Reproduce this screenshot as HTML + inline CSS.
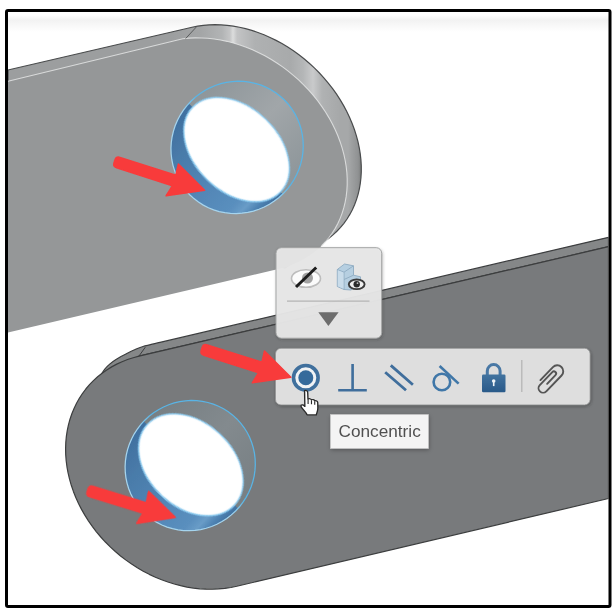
<!DOCTYPE html>
<html><head><meta charset="utf-8"><title>Concentric mate</title>
<style>
html,body{margin:0;padding:0;background:#fff;}
body{width:615px;height:610px;overflow:hidden;position:relative;font-family:"Liberation Sans",sans-serif;}
svg{position:absolute;left:0;top:0;display:block}
</style></head><body>
<svg width="615" height="610" viewBox="0 0 615 610">
<defs>
  <filter id="b1" x="-10%" y="-10%" width="120%" height="120%"><feGaussianBlur stdDeviation="1.2"/></filter>
  <filter id="b05" x="-10%" y="-10%" width="120%" height="120%"><feGaussianBlur stdDeviation="0.5"/></filter>
  <filter id="b2" x="-10%" y="-20%" width="120%" height="140%"><feGaussianBlur stdDeviation="2"/></filter>
  <filter id="b15" x="-5%" y="-10%" width="110%" height="120%"><feGaussianBlur stdDeviation="1.4"/></filter>
  <filter id="b04" x="-2%" y="-2%" width="104%" height="104%"><feGaussianBlur stdDeviation="0.4"/></filter>
  <filter id="b07"><feGaussianBlur stdDeviation="0.7"/></filter>
  <linearGradient id="ug" gradientUnits="userSpaceOnUse" x1="190" y1="195" x2="285" y2="100">
    <stop offset="0" stop-color="#4d83b5"/><stop offset="0.49" stop-color="#4a7fb0"/><stop offset="0.5" stop-color="#8a9296"/><stop offset="1" stop-color="#9ea3a6"/>
  </linearGradient>
  <linearGradient id="lg" gradientUnits="userSpaceOnUse" x1="143" y1="513" x2="238" y2="418">
    <stop offset="0" stop-color="#4d83b5"/><stop offset="0.49" stop-color="#4a7fb0"/><stop offset="0.5" stop-color="#7b8387"/><stop offset="1" stop-color="#858b8f"/>
  </linearGradient>
  <linearGradient id="bandg" gradientUnits="userSpaceOnUse" x1="170" y1="0" x2="362" y2="0"><stop offset="0.000" stop-color="#9c9e9f"/><stop offset="0.156" stop-color="#a3a5a6"/><stop offset="0.271" stop-color="#b2b4b5"/><stop offset="0.312" stop-color="#c4c5c6"/><stop offset="0.328" stop-color="#dcdddd"/><stop offset="0.349" stop-color="#c3c4c5"/><stop offset="0.443" stop-color="#afb1b2"/><stop offset="0.625" stop-color="#a8aaab"/><stop offset="0.693" stop-color="#b4b6b7"/><stop offset="0.745" stop-color="#c9cacb"/><stop offset="0.792" stop-color="#b0b2b3"/><stop offset="0.885" stop-color="#a6a8a9"/><stop offset="0.927" stop-color="#a6a8a9"/><stop offset="0.979" stop-color="#909293"/><stop offset="1.000" stop-color="#777979"/></linearGradient>
  <clipPath id="frame"><rect x="8" y="12" width="600.5" height="593"/></clipPath>
</defs>
<rect width="615" height="610" fill="#ffffff"/>
<linearGradient id="topg" x1="0" y1="0" x2="0" y2="1"><stop offset="0" stop-color="#ffffff"/><stop offset="0.3" stop-color="#f2f2f2"/><stop offset="1" stop-color="#ffffff"/></linearGradient>
<rect x="8" y="15" width="601" height="17" fill="url(#topg)"/>
<g clip-path="url(#frame)">
  <g filter="url(#b05)">
  <!-- upper plate -->
  <path d="M 8,70 L 192.00,27.26 L 197.59,26.13 L 203.30,25.32 L 209.13,24.84 L 215.05,24.67 L 221.06,24.83 L 227.14,25.30 L 233.26,26.10 L 239.42,27.22 L 245.59,28.65 L 251.75,30.40 L 257.90,32.44 L 264.01,34.80 L 270.07,37.44 L 276.05,40.37 L 281.95,43.58 L 287.74,47.06 L 293.41,50.80 L 298.95,54.78 L 304.33,59.01 L 309.55,63.46 L 314.58,68.13 L 319.42,73.00 L 324.05,78.05 L 328.46,83.28 L 332.63,88.66 L 336.56,94.19 L 340.23,99.85 L 343.63,105.62 L 346.76,111.48 L 349.60,117.43 L 352.14,123.44 L 354.39,129.49 L 356.33,135.58 L 357.96,141.67 L 359.27,147.76 L 360.25,153.83 L 360.92,159.86 L 361.26,165.84 L 361.28,171.74 L 360.96,177.55 L 360.33,183.26 L 359.37,188.85 L 358.08,194.30 L 356.48,199.60 L 354.57,204.73 L 352.35,209.68 L 349.83,214.44 L 347.02,218.99 L 343.92,223.32 L 340.54,227.41 L 336.89,231.26 L 332.99,234.85 L 328.84,238.18 L 324.45,241.24 L 319.84,244.01 L 285,268 L 8,200 Z" fill="url(#bandg)" stroke="#4a4c4d" stroke-width="1.2"/>
  <path d="M 8,81.3 L 182.85,38.79 L 188.90,38.18 L 195.06,37.89 L 201.29,37.92 L 207.60,38.28 L 213.96,38.96 L 220.34,39.96 L 226.74,41.28 L 233.14,42.92 L 239.52,44.86 L 245.86,47.10 L 252.14,49.65 L 258.35,52.48 L 264.47,55.60 L 270.48,59.00 L 276.36,62.65 L 282.11,66.57 L 287.69,70.72 L 293.11,75.11 L 298.34,79.72 L 303.37,84.54 L 308.18,89.55 L 312.76,94.74 L 317.10,100.10 L 321.19,105.61 L 325.02,111.26 L 328.56,117.02 L 331.83,122.89 L 334.80,128.85 L 337.46,134.88 L 339.82,140.97 L 341.86,147.09 L 343.58,153.24 L 344.97,159.39 L 346.03,165.52 L 346.76,171.63 L 347.15,177.69 L 347.21,183.69 L 346.93,189.60 L 346.31,195.42 L 345.36,201.13 L 344.08,206.71 L 342.46,212.14 L 340.53,217.42 L 338.28,222.52 L 335.71,227.44 L 332.84,232.15 L 329.68,236.65 L 326.22,240.93 L 322.49,244.96 L 318.48,248.75 L 314.23,252.28 L 309.72,255.53 L 304.98,258.51 L 300.02,261.20 L 294.86,263.59 L 289.51,265.69 L 283.97,267.48 L 278.28,268.95 L 8,332.5 Z" fill="#959798"/>
  <path d="M 8,81.3 L 182.85,38.79 L 188.93,38.17 L 195.12,37.89 L 201.40,37.93 L 207.74,38.29 L 214.13,38.99 L 220.55,40.00 L 226.99,41.34 L 233.42,42.99 L 239.83,44.96 L 246.20,47.23 L 252.51,49.81 L 258.75,52.68 L 264.89,55.83 L 270.92,59.26 L 276.83,62.96 L 282.59,66.91 L 288.20,71.11 L 293.62,75.55 L 298.86,80.21 L 303.89,85.07 L 308.71,90.13 L 313.29,95.37 L 317.62,100.78 L 321.70,106.33 L 325.51,112.03 L 329.04,117.84 L 332.28,123.75 L 335.22,129.76 L 337.85,135.83 L 340.17,141.95 L 342.17,148.11 L 343.84,154.29 L 345.18,160.48 L 346.19,166.64 L 346.86,172.77 L 347.19,178.85 L 347.18,184.87 L 346.83,190.80 L 346.14,196.63 L 345.11,202.34 L 343.75,207.92 L 342.06,213.35 L 340.04,218.62 L 337.70,223.70 L 335.05,228.60 L 332.09,233.29 L 328.83,237.76 L 325.28,241.99 L 321.46,245.99" fill="none" stroke="#e9eaea" stroke-width="1.1" stroke-opacity="0.8"/>
  <path d="M 185.7,38.5 L 196.6,26.7" stroke="#5a5c5d" stroke-width="1" fill="none"/>
  
<g>
  <clipPath id="uc"><ellipse cx="237.1" cy="147.4" rx="67" ry="65.3" transform="rotate(135 237.1 147.4)"/></clipPath>
  <linearGradient id="uwall" gradientUnits="userSpaceOnUse" x1="193.9" y1="105.7" x2="280.3" y2="189.1">
    <stop offset="0" stop-color="#8f979b"/><stop offset="0.5" stop-color="#a1a6a9"/><stop offset="1" stop-color="#8f979b"/>
  </linearGradient>
  <linearGradient id="ublue" gradientUnits="userSpaceOnUse" x1="189.6" y1="101.6" x2="284.6" y2="193.2">
    <stop offset="0" stop-color="#3f6f9f"/><stop offset="0.25" stop-color="#4a7caa"/><stop offset="0.55" stop-color="#5286b6"/><stop offset="0.79" stop-color="#5a8fbe"/><stop offset="0.86" stop-color="#699cc7"/><stop offset="0.92" stop-color="#4f84b4"/><stop offset="1" stop-color="#3c6b9a"/>
  </linearGradient>
  <linearGradient id="uedge" gradientUnits="userSpaceOnUse" x1="229.7" y1="156.8" x2="243.5" y2="142.4">
    <stop offset="0" stop-color="#a5d4ee"/><stop offset="1" stop-color="#58b4e6"/>
  </linearGradient>
  <g clip-path="url(#uc)">
    <rect x="157.1" y="67.4" width="160" height="160" fill="url(#uwall)"/>
    <polygon points="182.6,97.5 290.6,201.7 238.5,255.6 130.6,151.5" fill="url(#ublue)"/>
    <ellipse cx="236.6" cy="149.6" rx="61.099999999999994" ry="42.199999999999996" transform="rotate(44 236.6 149.6)" fill="#e4f3fb" stroke="#8ccaee" stroke-width="1.4" filter="url(#b05)"/>
    <ellipse cx="236.6" cy="149.6" rx="59.699999999999996" ry="40.8" transform="rotate(44 236.6 149.6)" fill="#ffffff" filter="url(#b07)"/>
  </g>
  <path d="M 189.72,194.78 L 185.88,190.57 L 182.43,186.04 L 179.39,181.21 L 176.79,176.13 L 174.65,170.82 L 172.98,165.34 L 171.81,159.72 L 171.13,154.01 L 170.95,148.25 L 171.28,142.48 L 172.10,136.75 L 173.42,131.10 L 175.23,125.57 L 177.51,120.21 L 180.24,115.06 L 183.40,110.15 L 186.97,105.53 L 190.93,101.23 L 195.23,97.27 L 199.85,93.70 L 204.76,90.54 L 209.91,87.81 L 215.27,85.53 L 220.80,83.72 L 226.45,82.40 L 232.18,81.58 L 237.95,81.25 L 243.71,81.43 L 249.42,82.11 L 255.04,83.28 L 260.52,84.95 L 265.83,87.09 L 270.91,89.69 L 275.74,92.73 L 280.27,96.18 L 284.48,100.02 L 288.32,104.23 L 291.77,108.76 L 294.81,113.59 L 297.41,118.67 L 299.55,123.98 L 301.22,129.46 L 302.39,135.08 L 303.07,140.79 L 303.25,146.55 L 302.92,152.32 L 302.10,158.05 L 300.78,163.70 L 298.97,169.23 L 296.69,174.59 L 293.96,179.74 L 290.80,184.65 L 287.23,189.27 L 283.27,193.57 L 278.97,197.53 L 274.35,201.10 L 269.44,204.26 L 264.29,206.99 L 258.93,209.27 L 253.40,211.08 L 247.75,212.40 L 242.02,213.22 L 236.25,213.55 L 230.49,213.37 L 224.78,212.69 L 219.16,211.52 L 213.68,209.85 L 208.37,207.71 L 203.29,205.11 L 198.46,202.07 L 193.93,198.62 Z" fill="none" stroke="url(#uedge)" stroke-width="1.25"/>
</g>
  <!-- lower plate -->
  <path d="M 608.5,246.7 L 608.5,237.3 L 160,342.4 C 157.2,343.1 147.3,345.2 143.0,346.5 C 138.7,347.8 137.0,348.7 134.0,350.0 C 131.0,351.3 128.0,352.9 125.0,354.5 C 122.0,356.1 118.5,357.9 116.0,359.5 C 113.5,361.1 111.5,362.6 109.7,364.1 C 107.9,365.7 106.4,367.2 105.0,368.8 C 103.6,370.4 102.1,373.1 101.5,374.0 L 120,400 L 139,356.2 Z" fill="#858788" stroke="#3c3e3f" stroke-width="1.2" stroke-linejoin="round"/>
  <path d="M 608.5,246.7 L 608.5,498.5 L 236.80,586.26 L 230.88,587.48 L 224.83,588.39 L 218.68,588.97 L 212.45,589.23 L 206.15,589.17 L 199.80,588.78 L 193.41,588.07 L 187.01,587.04 L 180.62,585.69 L 174.24,584.03 L 167.90,582.05 L 161.61,579.78 L 155.39,577.20 L 149.27,574.34 L 143.25,571.19 L 137.35,567.76 L 131.59,564.08 L 125.99,560.13 L 120.55,555.95 L 115.30,551.53 L 110.25,546.89 L 105.41,542.04 L 100.79,537.00 L 96.42,531.78 L 92.29,526.39 L 88.43,520.85 L 84.84,515.17 L 81.53,509.38 L 78.52,503.48 L 75.80,497.49 L 73.40,491.42 L 71.30,485.31 L 69.53,479.15 L 68.08,472.98 L 66.96,466.79 L 66.17,460.62 L 65.71,454.48 L 65.59,448.39 L 65.81,442.36 L 66.36,436.41 L 67.24,430.55 L 68.45,424.80 L 69.99,419.19 L 71.86,413.71 L 74.04,408.40 L 76.54,403.25 L 79.34,398.30 L 82.44,393.54 L 85.82,389.00 L 89.49,384.68 L 93.43,380.60 L 97.62,376.77 L 102.07,373.20 L 106.74,369.89 L 111.64,366.87 L 116.75,364.13 L 122.06,361.69 L 127.54,359.55 L 133.19,357.71 L 139.00,356.19 Z" fill="#787a7b" stroke="#3c3e3f" stroke-width="1.2" stroke-linejoin="round"/>
  <path d="M 138.6,356.6 L 145.3,347.2" stroke="#3c3e3f" stroke-width="1" fill="none"/>
  
<g>
  <clipPath id="lc"><ellipse cx="190.2" cy="465.6" rx="66" ry="64.2" transform="rotate(135 190.2 465.6)"/></clipPath>
  <linearGradient id="lwall" gradientUnits="userSpaceOnUse" x1="146.1" y1="424.9" x2="234.3" y2="506.3">
    <stop offset="0" stop-color="#788084"/><stop offset="0.5" stop-color="#838a8e"/><stop offset="1" stop-color="#788084"/>
  </linearGradient>
  <linearGradient id="lblue" gradientUnits="userSpaceOnUse" x1="141.7" y1="420.8" x2="238.7" y2="510.4">
    <stop offset="0" stop-color="#3f6f9f"/><stop offset="0.25" stop-color="#4a7caa"/><stop offset="0.55" stop-color="#5286b6"/><stop offset="0.79" stop-color="#5a8fbe"/><stop offset="0.86" stop-color="#699cc7"/><stop offset="0.92" stop-color="#4f84b4"/><stop offset="1" stop-color="#3c6b9a"/>
  </linearGradient>
  <linearGradient id="ledge" gradientUnits="userSpaceOnUse" x1="184.1" y1="472.2" x2="197.6" y2="457.5">
    <stop offset="0" stop-color="#a5d4ee"/><stop offset="1" stop-color="#58b4e6"/>
  </linearGradient>
  <g clip-path="url(#lc)">
    <rect x="110.19999999999999" y="385.6" width="160" height="160" fill="url(#lwall)"/>
    <polygon points="135.7,414.0 246.0,515.7 195.1,570.8 84.9,469.1" fill="url(#lblue)"/>
    <ellipse cx="190.85" cy="464.84" rx="59.4" ry="42.5" transform="rotate(42.7 190.85 464.84)" fill="#e4f3fb" stroke="#8ccaee" stroke-width="1.4" filter="url(#b05)"/>
    <ellipse cx="190.85" cy="464.84" rx="58.0" ry="41.1" transform="rotate(42.7 190.85 464.84)" fill="#ffffff" filter="url(#b07)"/>
  </g>
  <path d="M 143.53,512.27 L 139.75,508.13 L 136.36,503.68 L 133.37,498.93 L 130.82,493.93 L 128.72,488.71 L 127.09,483.32 L 125.93,477.79 L 125.27,472.17 L 125.10,466.50 L 125.43,460.82 L 126.25,455.18 L 127.55,449.62 L 129.33,444.18 L 131.58,438.90 L 134.27,433.83 L 137.39,429.00 L 140.91,424.44 L 144.80,420.20 L 149.04,416.31 L 153.60,412.79 L 158.43,409.67 L 163.50,406.98 L 168.78,404.73 L 174.22,402.95 L 179.78,401.65 L 185.42,400.83 L 191.10,400.50 L 196.77,400.67 L 202.39,401.33 L 207.92,402.49 L 213.31,404.12 L 218.53,406.22 L 223.53,408.77 L 228.28,411.76 L 232.73,415.15 L 236.87,418.93 L 240.65,423.07 L 244.04,427.52 L 247.03,432.27 L 249.58,437.27 L 251.68,442.49 L 253.31,447.88 L 254.47,453.41 L 255.13,459.03 L 255.30,464.70 L 254.97,470.38 L 254.15,476.02 L 252.85,481.58 L 251.07,487.02 L 248.82,492.30 L 246.13,497.37 L 243.01,502.20 L 239.49,506.76 L 235.60,511.00 L 231.36,514.89 L 226.80,518.41 L 221.97,521.53 L 216.90,524.22 L 211.62,526.47 L 206.18,528.25 L 200.62,529.55 L 194.98,530.37 L 189.30,530.70 L 183.63,530.53 L 178.01,529.87 L 172.48,528.71 L 167.09,527.08 L 161.87,524.98 L 156.87,522.43 L 152.12,519.44 L 147.67,516.05 Z" fill="none" stroke="url(#ledge)" stroke-width="1.25"/>
</g>
  </g>
  <g filter="url(#b04)">
  <path d="M 4,-5.5 L 62.62145634051507,-5.5 L 61.62145634051507,-17.0 L 94.62145634051507,0 L 59.62145634051507,17.0 L 62.62145634051507,5.5 L 4,5.5 Q 0,5.5 0,1.5 L 0,-1.5 Q 0,-5.5 4,-5.5 Z" fill="#f83b3b" stroke="#f83b3b" stroke-width="1.5" stroke-linejoin="round" transform="translate(114.5,161.4) rotate(17.78)"/>
  <path d="M 4,-5.5 L 59.6665696969184,-5.5 L 58.6665696969184,-17.0 L 91.6665696969184,0 L 56.6665696969184,17.0 L 59.6665696969184,5.5 L 4,5.5 Q 0,5.5 0,1.5 L 0,-1.5 Q 0,-5.5 4,-5.5 Z" fill="#f83b3b" stroke="#f83b3b" stroke-width="1.5" stroke-linejoin="round" transform="translate(87.6,490.4) rotate(17.13)"/>
  </g>
</g>
<g filter="url(#b04)">
<!-- popup -->
<g>
  <rect x="276.5" y="248.7" width="106.2" height="90.8" rx="6" fill="#2a2a2a" fill-opacity="0.35" filter="url(#b15)"/>
  <rect x="276" y="247.7" width="105.7" height="90.5" rx="5.5" fill="#e8e8e8" fill-opacity="0.96" stroke="#a4a6a6" stroke-width="1"/>
  <line x1="287" y1="301.2" x2="369.5" y2="301.2" stroke="#b4b4b4" stroke-width="1.2"/>
  <path d="M 318.3,312.2 L 338.6,312.2 L 328.4,326 Z" fill="#6d6d6d"/>
  <!-- eye slash -->
  <ellipse cx="306" cy="278.5" rx="14.5" ry="8.8" fill="#fbfbfb" stroke="#bdbdbd" stroke-width="1.6" filter="url(#b05)"/>
  <circle cx="307.5" cy="278" r="5.5" fill="#a2a2a2" filter="url(#b05)"/>
  <line x1="296" y1="287" x2="316.2" y2="267.5" stroke="#1e1e1e" stroke-width="3"/>
  <!-- block + eye -->
  <path d="M 337.3,269.5 L 344.5,264 L 353.5,265.8 L 353.5,275.2 L 360.5,276.8 L 360.5,283 L 351,290 L 344,289.5 L 337.3,286.5 Z" fill="#b6cfe1" stroke="#8eabc2" stroke-width="0.9" stroke-linejoin="round"/>
  <path d="M 337.3,269.5 L 344,272.2 L 353.5,265.8 M 344,272.2 L 344,289.5 M 344,279.5 L 353.5,275.2" fill="none" stroke="#8eabc2" stroke-width="0.9"/>
  <path d="M 337.8,270.3 L 343.5,272.6 L 343.5,288.8 L 337.8,286.2 Z" fill="#c9dcea"/>
  <ellipse cx="356.7" cy="284.3" rx="7.9" ry="4.8" fill="#efefef" stroke="#3a3a3a" stroke-width="1.9"/>
  <circle cx="356.7" cy="284.2" r="3.2" fill="#2c2c2c"/><circle cx="357.5" cy="283.2" r="0.9" fill="#bbb"/>
</g>
<!-- toolbar -->
<g>
  <rect x="276" y="349.3" width="315.2" height="57" rx="6" fill="#2a2a2a" fill-opacity="0.45" filter="url(#b15)"/>
  <rect x="275.5" y="348.3" width="314.6" height="56.6" rx="5.5" fill="#e3e3e3" fill-opacity="0.97" stroke="#959797" stroke-width="0.8"/>
  <!-- concentric -->
  <circle cx="305.8" cy="377.8" r="12.3" fill="#f1f3f5" stroke="#3f6f9d" stroke-width="3.6"/>
  <circle cx="305.8" cy="377.8" r="7.5" fill="#356a9b"/>
  <!-- perpendicular -->
  <path d="M 352.6,364 L 352.6,390.3 M 338.2,390.3 L 366.8,390.3" stroke="#3f6e9c" stroke-width="2.6" fill="none"/>
  <!-- parallel -->
  <path d="M 390.8,365.4 L 412.9,384.8 M 385.2,372.3 L 406,390.3" stroke="#3f6e9c" stroke-width="2.8" fill="none"/>
  <!-- tangent -->
  <circle cx="441.9" cy="382" r="8.3" fill="none" stroke="#3f77a8" stroke-width="2.6"/>
  <line x1="439.6" y1="366" x2="458.6" y2="383.6" stroke="#3f77a8" stroke-width="2.6"/>
  <!-- lock -->
  <path d="M 487.3,375 L 487.3,371 A 6.4,6.4 0 0 1 500.1,371 L 500.1,375" fill="none" stroke="#4878a5" stroke-width="3"/>
  <linearGradient id="lockg" x1="0" y1="0" x2="0" y2="1"><stop offset="0" stop-color="#42739f"/><stop offset="1" stop-color="#295989"/></linearGradient>
  <rect x="482" y="374.5" width="23.5" height="17.8" rx="1.2" fill="url(#lockg)"/>
  <circle cx="493.7" cy="381" r="1.8" fill="#eef3f7"/>
  <rect x="492.9" y="381.5" width="1.6" height="4.6" fill="#eef3f7"/>
  <!-- separator -->
  <line x1="521.8" y1="360" x2="521.8" y2="392" stroke="#b6b6b6" stroke-width="1.3"/>
  <!-- paperclip -->
  <g transform="translate(550.3,378.5) rotate(-46)" fill="none" stroke="#555555" stroke-width="1.9" stroke-linecap="round">
    <path d="M -8,-6 L 10,-6 A 6,6 0 0 1 10,6 L -12,6 A 4.5,4.5 0 0 1 -12,-3 L 6,-3 A 2.2,2.2 0 0 1 6,1.4 L -6,1.4"/>
  </g>
</g>
<path d="M 4,-5.5 L 61.48636264183138,-5.5 L 60.48636264183138,-17.0 L 93.48636264183138,0 L 58.48636264183138,17.0 L 61.48636264183138,5.5 L 4,5.5 Q 0,5.5 0,1.5 L 0,-1.5 Q 0,-5.5 4,-5.5 Z" fill="#f83b3b" stroke="#f83b3b" stroke-width="1.5" stroke-linejoin="round" transform="translate(201.7,348.9) rotate(17.62)"/>
<!-- tooltip -->
<rect x="331" y="416" width="98" height="34" fill="#000" fill-opacity="0.3" filter="url(#b2)"/>
<rect x="330.4" y="414.6" width="98" height="33.8" fill="#f4f4f4" stroke="#c9c9c9" stroke-width="0.8"/>
<text x="338.6" y="437.2" font-family="Liberation Sans, sans-serif" font-size="17.2" fill="#505050">Concentric</text>
<!-- cursor hand -->
<g transform="translate(300.6,389.6) scale(1.25,1.11)">
  <path d="M 3.2,0.8 C 4.6,0.4 5.6,1.2 5.7,2.6 L 5.9,8.6 C 6.8,7.9 8.2,8.1 8.6,9.2 C 9.6,8.6 10.9,9 11.3,10.1 C 12.4,9.7 13.6,10.3 13.7,11.6 L 13.8,16.5 C 13.8,19.5 12.8,21 12.6,22.8 L 5.2,22.8 C 4.6,20.6 2.2,18.6 0.6,15.8 C -0.2,14.4 0.8,13.2 2.2,14 L 3.4,15.2 L 3.2,2.6 Z" fill="#ffffff" stroke="#2a2a2a" stroke-width="1.1" stroke-linejoin="round"/>
  <path d="M 6,9 L 6,13 M 8.7,9.6 L 8.7,13.2 M 11.3,10.6 L 11.3,13.6" stroke="#2a2a2a" stroke-width="0.9" fill="none"/>
</g>
</g>
<!-- black frame -->
<rect x="6.5" y="10.5" width="603.5" height="596" fill="none" stroke="#000" stroke-width="3" rx="1.5"/>
</svg>
</body></html>
